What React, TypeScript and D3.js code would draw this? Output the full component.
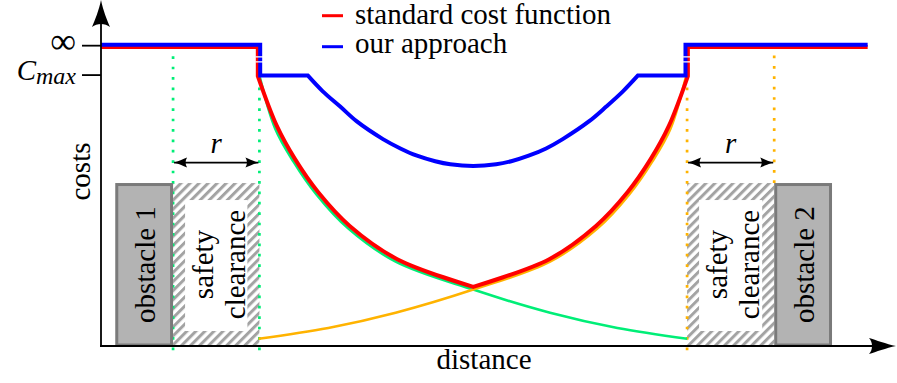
import React from 'react';
import * as d3 from 'd3';

const W = 897;
const H = 383;

// ---------- data (distance 0..100, cost 0..100) ----------
const xDomain = [0, 100];
const yDomain = [0, 100];

const costInfBlue = 87.1;
const costInfRed = 86.4;
const costMax = 78.2;
const lineEnd = 96.8;

const yTickValues = [86.8, 78.3];

const obstacle1 = [1.8, 9.1];
const clearance1 = [9.1, 20.0];
const clearance2 = [74.0, 85.0];
const obstacle2 = [85.0, 92.3];
const obstacleHeight = 47.1;
const obstacleLabels = ['obstacle 1', 'obstacle 2'];
const clearanceLines = ['safety', 'clearance'];
const legendLabels = ['standard cost function', 'our approach'];
const rArrowLevel = 53.0;

// cost of obstacle 1 (green) and obstacle 2 (orange)
const greenX = [20.0, 22.0, 24.3, 27.2, 31.2, 37.2, 47.0, 56.7, 65.2, 74.0];
const greenY = [78.2, 62.8, 53.3, 43.8, 34.0, 24.4, 16.3, 9.6, 5.2, 2.1];
const orangeX = [19.9, 28.7, 37.2, 47.0, 56.7, 62.7, 66.7, 69.6, 71.9, 73.9];
const orangeY = [2.1, 5.2, 9.6, 16.3, 24.4, 34.0, 43.8, 53.3, 62.8, 78.2];

// standard cost function (red)
const redEdges = [19.8, 74.1];
const redLeftX = [19.8, 22.2, 24.5, 27.4, 31.4, 37.4, 47.0];
const redLeftY = [78.0, 63.6, 54.0, 44.5, 34.7, 25.1, 17.1];
const redRightX = [47.0, 56.6, 62.5, 66.5, 69.4, 71.7, 74.1];
const redRightY = [17.1, 25.1, 34.7, 44.5, 54.0, 63.6, 78.0];

// our approach (blue)
const blueEdges = [20.1, 73.8];
const blueCurveX = [26.1, 28.0, 30.2, 32.3, 35.6, 37.8, 39.9, 42.2, 44.1, 47.0, 49.9, 51.8, 54.0, 56.2, 58.3, 61.6, 63.8, 65.9, 67.8];
const blueCurveY = [78.2, 73.6, 69.2, 64.9, 59.8, 57.1, 55.0, 53.4, 52.5, 52.0, 52.5, 53.4, 55.0, 57.1, 59.8, 64.9, 69.2, 73.6, 78.2];

// ---------- styles ----------
const FONT = '"Liberation Serif", "Times New Roman", Times, serif';
const RED = '#ff0000';
const BLUE = '#0000ff';
const GREEN = '#00ee77';
const ORANGE = '#ffb300';

const x = d3.scaleLinear().domain(xDomain).range([101, 893]);
const y = d3.scaleLinear().domain(yDomain).range([346, 0]);

type P = [number, number];
const zip = (xs: number[], ys: number[]): P[] => xs.map((v, i) => [v, ys[i]]);

const lin = d3.line<P>().x(d => x(d[0])).y(d => y(d[1])).curve(d3.curveLinear);
const smooth = d3.line<P>().x(d => x(d[0])).y(d => y(d[1])).curve(d3.curveCatmullRom.alpha(0.5));

function joinPaths(parts: string[]): string {
  return parts.map((p, i) => (i === 0 ? p : 'L' + p.slice(1))).join('');
}

export default function App() {
  const redPath = joinPaths([
    lin([[0, costInfRed], [redEdges[0], costInfRed], [redEdges[0], costMax]]) as string,
    smooth(zip(redLeftX, redLeftY)) as string,
    smooth(zip(redRightX, redRightY)) as string,
    lin([[redEdges[1], costMax], [redEdges[1], costInfRed], [lineEnd, costInfRed]]) as string,
  ]);
  const bluePath = joinPaths([
    lin([[0, costInfBlue], [blueEdges[0], costInfBlue], [blueEdges[0], costMax], [blueCurveX[0], costMax]]) as string,
    smooth(zip(blueCurveX, blueCurveY)) as string,
    lin([[blueCurveX[blueCurveX.length - 1], costMax], [blueEdges[1], costMax], [blueEdges[1], costInfBlue], [lineEnd, costInfBlue]]) as string,
  ]);
  const greenPath = smooth(zip(greenX, greenY)) as string;
  const orangePath = smooth(zip(orangeX, orangeY)) as string;

  const clearances = [clearance1, clearance2];
  const obstacles = [obstacle1, obstacle2];

  const dotted = [
    { xv: clearance1[0], y0: -1.2, y1: 85.0, c: GREEN },
    { xv: clearance1[1], y0: -1.2, y1: 76.9, c: GREEN },
    { xv: clearance2[0], y0: -1.2, y1: 76.9, c: ORANGE },
    { xv: clearance2[1], y0: obstacleHeight, y1: 85.5, c: ORANGE },
  ];

  const y0px = y(0);
  const axisX = x(0);

  return (
    <svg width={W} height={H} style={{ position: 'absolute', left: 0, top: 0, background: '#fff' }}
      fontFamily={FONT}>
      <defs>
        <pattern id="hatch" width="6.4" height="6.4" patternUnits="userSpaceOnUse" patternTransform="rotate(45)">
          <rect x="0" y="0" width="3" height="6.4" fill="#a3a3a3" />
        </pattern>
        <marker id="rhead" viewBox="-14 -6 16 12" refX="0" refY="0" markerWidth="16" markerHeight="12"
          markerUnits="userSpaceOnUse" orient="auto-start-reverse">
          <path d="M0,0 C-4,-1 -9,-3.5 -13,-5 C-11,-2 -11,2 -13,5 C-9,3.5 -4,1 0,0 Z" fill="#000" />
        </marker>
      </defs>

      {/* safety clearances */}
      {clearances.map((c, i) => {
        const x0 = x(c[0]);
        const x1 = x(c[1]);
        const yt = y(obstacleHeight);
        const cx = (x0 + x1) / 2;
        const cy = (yt + y0px) / 2;
        return (
          <g key={'cl' + i}>
            <rect x={x0} y={yt} width={x1 - x0} height={y0px - yt} fill="url(#hatch)" />
            <rect x={x0 + 12} y={yt + 17} width={x1 - x0 - 24} height={y0px - yt - 32} fill="#fff" />
            {clearanceLines.map((t, j) => (
              <text key={t} transform={`translate(${cx + (j === 0 ? -3.5 : 28.5)},${cy}) rotate(-90)`}
                textAnchor="middle" fontSize={29} fill="#000">{t}</text>
            ))}
          </g>
        );
      })}

      {/* dotted clearance boundaries */}
      {dotted.map((d, i) => (
        <line key={'dot' + i} x1={x(d.xv)} x2={x(d.xv)} y1={y(d.y0)} y2={y(d.y1)}
          stroke={d.c} strokeWidth={2.7} strokeDasharray="2.7 7.7" />
      ))}

      {/* obstacles */}
      {obstacles.map((o, i) => {
        const x0 = x(o[0]) + 1.5;
        const x1 = x(o[1]) - 1.5;
        const yt = y(obstacleHeight) + 1.5;
        const yb = y0px - 1;
        const cx = (x(o[0]) + x(o[1])) / 2;
        const cy = (y(obstacleHeight) + y0px) / 2;
        return (
          <g key={'ob' + i}>
            <rect x={x0} y={yt} width={x1 - x0} height={yb - yt} fill="#b3b3b3" stroke="#7a7a7a" strokeWidth={3} />
            <text transform={`translate(${cx + 10.5},${cy}) rotate(-90)`} textAnchor="middle"
              fontSize={29} fill="#000">{obstacleLabels[i]}</text>
          </g>
        );
      })}

      {/* r arrows */}
      {clearances.map((c, i) => (
        <g key={'r' + i}>
          <line x1={x(c[0]) + 1} x2={x(c[1]) - 1} y1={y(rArrowLevel)} y2={y(rArrowLevel)} stroke="#000"
            strokeWidth={1.8} markerStart="url(#rhead)" markerEnd="url(#rhead)" />
          <text x={(x(c[0]) + x(c[1])) / 2} y={y(rArrowLevel) - 10} textAnchor="middle" fontSize={29}
            fontStyle="italic">r</text>
        </g>
      ))}

      {/* cost curves of single obstacles */}
      <path d={greenPath} fill="none" stroke={GREEN} strokeWidth={2.6} />
      <path d={orangePath} fill="none" stroke={ORANGE} strokeWidth={2.6} />

      {/* standard and our approach */}
      <path d={redPath} fill="none" stroke={RED} strokeWidth={4} strokeLinejoin="miter" />
      <path d={bluePath} fill="none" stroke={BLUE} strokeWidth={4} strokeLinejoin="miter" />

      {/* discontinuity gaps on the jumps */}
      {[clearance1[1], clearance2[0]].map((xv, i) => (
        <line key={'gap' + i} x1={x(xv)} x2={x(xv)} y1={y(costInfBlue) + 2} y2={y(costMax) - 2}
          stroke="#fff" strokeWidth={8} strokeDasharray="0 9.5 1.4 3.6 1.4 100" />
      ))}

      {/* axes */}
      <line x1={axisX} x2={axisX} y1={y0px + 1} y2={20} stroke="#000" strokeWidth={1.8} />
      <line x1={axisX - 1} x2={880} y1={y0px} y2={y0px} stroke="#000" strokeWidth={1.8} />
      <path d={`M${axisX},0 C${axisX + 2},10 ${axisX + 6},20 ${axisX + 9},27 C${axisX + 4},23 ${axisX - 4},23 ${axisX - 9},27 C${axisX - 6},20 ${axisX - 2},10 ${axisX},0 Z`} fill="#000" />
      <path d={`M896,${y0px} C886,${y0px + 2} 876,${y0px + 6} 869,${y0px + 8} C873,${y0px + 4} 873,${y0px - 4} 869,${y0px - 8} C876,${y0px - 6} 886,${y0px - 2} 896,${y0px} Z`} fill="#000" />

      {/* y ticks */}
      {yTickValues.map((v, i) => (
        <line key={'t' + i} x1={82} x2={axisX} y1={y(v)} y2={y(v)} stroke="#000" strokeWidth={1.8} />
      ))}
      <text x={76} y={y(yTickValues[0]) + 7} textAnchor="end" fontSize={36}>∞</text>
      <text x={76} y={y(yTickValues[1]) + 5} textAnchor="end">
        <tspan fontStyle="italic" fontSize={29}>C</tspan>
        <tspan fontStyle="italic" fontSize={24} dy={4}>max</tspan>
      </text>

      {/* axis titles */}
      <text transform={`translate(90,${171.5}) rotate(-90)`} textAnchor="middle" fontSize={29}>costs</text>
      <text x={484} y={369} textAnchor="middle" fontSize={29}>distance</text>

      {/* legend */}
      <line x1={322} x2={343} y1={15.7} y2={15.7} stroke={RED} strokeWidth={3} />
      <text x={355} y={24} fontSize={29}>{legendLabels[0]}</text>
      <line x1={322} x2={343} y1={46.7} y2={46.7} stroke={BLUE} strokeWidth={3} />
      <text x={355} y={53} fontSize={29}>{legendLabels[1]}</text>
    </svg>
  );
}
